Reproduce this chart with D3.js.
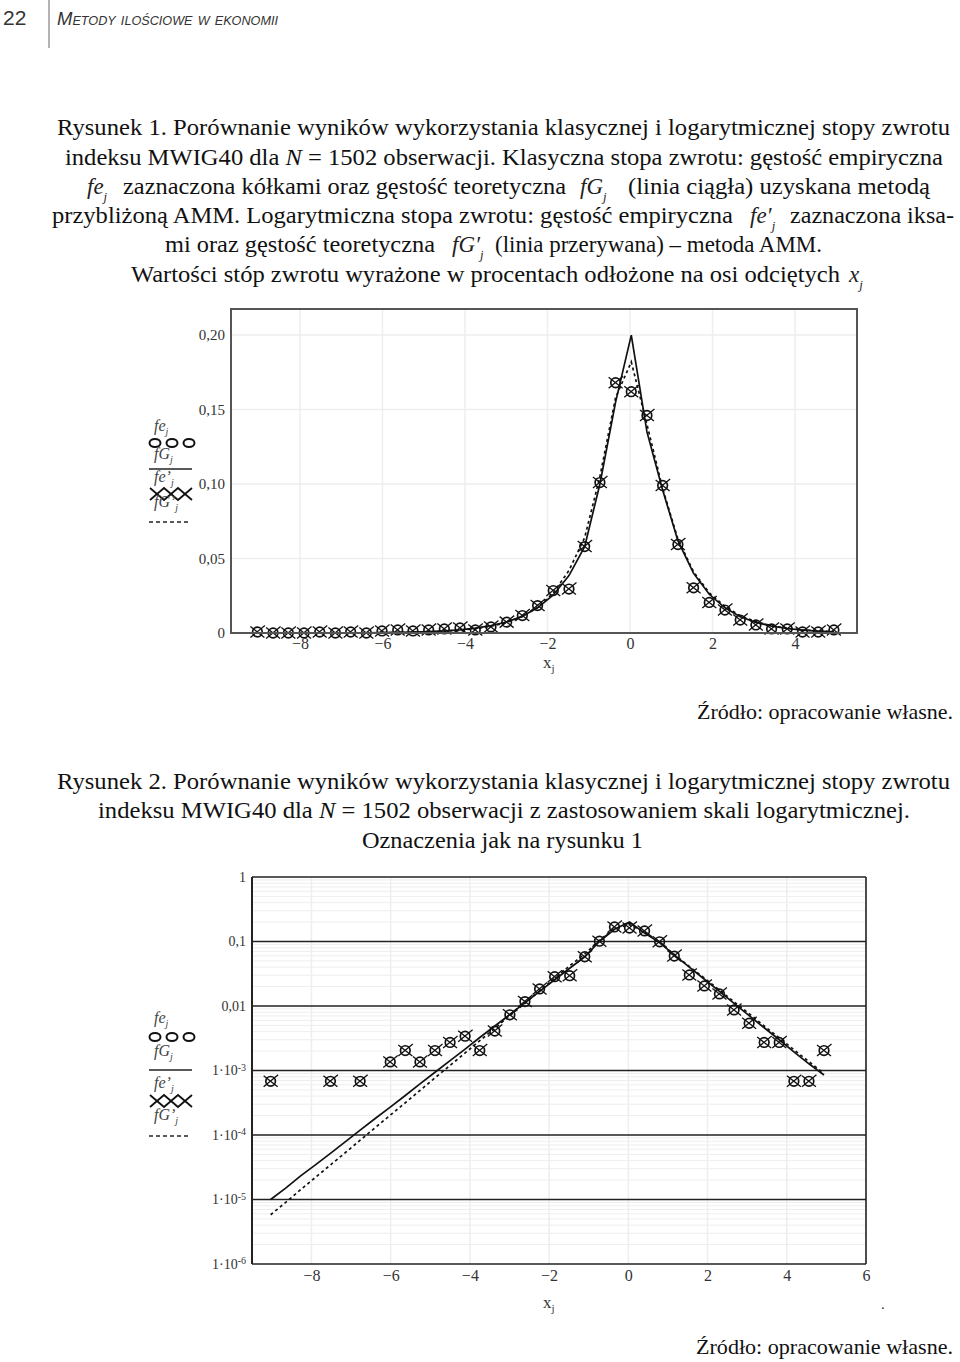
<!DOCTYPE html>
<html lang="pl">
<head>
<meta charset="UTF-8">
<title>Rysunek 1 i 2 - MWIG40</title>
<script src="https://d3js.org/d3.v7.min.js"></script>
<style>
  body { margin: 0; background: #fff; }
</style>
</head>
<body>
<script>
// bin centres x_j (returns in %)
const xj = [-9.03, -8.65, -8.28, -7.90, -7.52, -7.14, -6.77, -6.39, -6.01, -5.63, -5.26, -4.88, -4.50, -4.12, -3.75, -3.37, -2.99, -2.61, -2.24, -1.86, -1.48, -1.10, -0.73, -0.35, 0.03, 0.41, 0.79, 1.16, 1.54, 1.92, 2.30, 2.67, 3.05, 3.43, 3.81, 4.18, 4.56, 4.94];
// empirical density (circles fe_j and crosses fe'_j lie on top of each other)
const fe = [0.00068, 0, 0, 0, 0.00068, 0, 0.00068, 0, 0.00136, 0.00204, 0.00136, 0.00204, 0.00272, 0.0034, 0.00204, 0.00408, 0.0073, 0.0117, 0.0184, 0.0285, 0.0295, 0.058, 0.101, 0.168, 0.162, 0.146, 0.099, 0.0594, 0.0303, 0.0205, 0.0154, 0.0087, 0.0054, 0.00272, 0.00272, 0.00068, 0.00068, 0.00204];
// theoretical density fG_j (solid)
const fG = [1.0e-5, 1.5e-5, 2.3e-5, 3.45e-5, 5.2e-5, 7.9e-5, 1.19e-4, 1.8e-4, 2.7e-4, 4.1e-4, 6.2e-4, 9.4e-4, 1.42e-3, 2.15e-3, 3.25e-3, 4.9e-3, 7.4e-3, 0.0112, 0.0169, 0.0255, 0.0385, 0.058, 0.100, 0.155, 0.200, 0.135, 0.096, 0.062, 0.040, 0.026, 0.0169, 0.011, 0.0071, 0.0046, 0.003, 0.00195, 0.00127, 0.00085];
// theoretical density fG'_j (dashed, log returns)
const fGp = [5.8e-6, 9.0e-6, 1.41e-5, 2.2e-5, 3.43e-5, 5.35e-5, 8.3e-5, 1.3e-4, 2.03e-4, 3.16e-4, 4.9e-4, 7.7e-4, 1.2e-3, 1.87e-3, 2.9e-3, 4.5e-3, 7.1e-3, 0.011, 0.0172, 0.0268, 0.042, 0.064, 0.105, 0.158, 0.182, 0.140, 0.097, 0.063, 0.041, 0.027, 0.0177, 0.0116, 0.0076, 0.0049, 0.0032, 0.0021, 0.00137, 0.0009];

// ticks
const xTicks1 = [-8, -6, -4, -2, 0, 2, 4];
const yTicks1 = [0, 0.05, 0.10, 0.15, 0.20];
const yLabels1 = ['0', '0,05', '0,10', '0,15', '0,20'];
const xTicks2 = [-8, -6, -4, -2, 0, 2, 4, 6];
const yTicks2 = [1, 0.1, 0.01, 1e-3, 1e-4, 1e-5, 1e-6];
const yLabels2 = ['1', '0,1', '0,01', '1\u00b710', '1\u00b710', '1\u00b710', '1\u00b710'];
const yExp2 = ['', '', '', '-3', '-4', '-5', '-6'];

const serif = '"Liberation Serif", "Times New Roman", serif';
const sans = '"Liberation Sans", Arial, sans-serif';

const svg = d3.select('body').append('svg')
  .attr('width', 960).attr('height', 1362)
  .style('font-family', serif);

// ---- page header
svg.append('text').attr('x', 3).attr('y', 25)
  .style('font-family', sans).style('font-size', '21px').style('fill', '#333')
  .text('22');
svg.append('line').attr('x1', 49).attr('x2', 49).attr('y1', 0).attr('y2', 48)
  .attr('stroke', '#666').attr('stroke-width', 1);
svg.append('text').attr('x', 57).attr('y', 25)
  .style('font-family', sans).style('font-size', '19px').style('font-style', 'italic')
  .style('font-variant', 'small-caps').style('fill', '#333')
  .attr('textLength', 221).attr('lengthAdjust', 'spacingAndGlyphs')
  .text('Metody ilościowe w ekonomii');

// ---- caption helpers
function seg(x, y, w, str, size) {
  const t = svg.append('text').attr('x', x).attr('y', y)
    .style('font-size', (size || 23) + 'px').style('fill', '#111');
  if (w) t.attr('textLength', w).attr('lengthAdjust', 'spacingAndGlyphs');
  if (str != null) t.text(str);
  return t;
}
function math(x, y, base, sub, size) {
  const s = size || 23;
  const t = svg.append('text').attr('x', x).attr('y', y)
    .style('font-size', s + 'px').style('font-style', 'italic').style('fill', '#222');
  t.append('tspan').text(base);
  t.append('tspan').attr('dy', s * 0.3).style('font-size', (s * 0.55) + 'px').text(sub);
  return t;
}

// caption 1
seg(57, 135, 893, 'Rysunek 1. Porównanie wyników wykorzystania klasycznej i logarytmicznej stopy zwrotu');
const c12 = seg(65, 165, 878);
c12.append('tspan').text('indeksu MWIG40 dla ');
c12.append('tspan').style('font-style', 'italic').text('N');
c12.append('tspan').text(' = 1502 obserwacji. Klasyczna stopa zwrotu: gęstość empiryczna');
math(87, 194, 'fe', 'j');
seg(123, 194, 443, 'zaznaczona kółkami oraz gęstość teoretyczna');
math(580, 194, 'fG', 'j');
seg(628, 194, 302, '(linia ciągła) uzyskana metodą');
seg(52, 223, 681, 'przybliżoną AMM. Logarytmiczna stopa zwrotu: gęstość empiryczna');
math(750, 223, 'fe\u2032', 'j');
seg(790, 223, 164, 'zaznaczona iksa-');
seg(165, 252, 270, 'mi oraz gęstość teoretyczna');
math(452, 252, 'fG\u2032', 'j');
seg(495, 252, 327, '(linia przerywana) \u2013 metoda AMM.');
seg(131, 282, 709, 'Wartości stóp zwrotu wyrażone w procentach odłożone na osi odciętych');
math(849, 282, 'x', 'j');

// ---- markers, legend
function markers(g, pts, x, y) {
  const m = g.selectAll('g.mk').data(pts).enter().append('g')
    .attr('class', 'mk')
    .attr('transform', d => `translate(${x(d[0])},${y(d[1])})`);
  m.append('circle').attr('r', 4.8).attr('fill', 'none').attr('stroke', '#111').attr('stroke-width', 1.7);
  m.append('path').attr('d', 'M-7,-5.5L7,5.5M-7,5.5L7.5,-6.5')
    .attr('fill', 'none').attr('stroke', '#111').attr('stroke-width', 1.3);
}

function legend(ys) {
  const g = svg.append('g');
  const lab = (y, base, prime) => {
    const t = g.append('text').attr('x', 154).attr('y', y)
      .style('font-size', '16px').style('font-style', 'italic').style('fill', '#444');
    t.append('tspan').text(base + (prime ? '\u2019' : ''));
    t.append('tspan').attr('dy', 4).style('font-size', '10px').text('j');
  };
  lab(ys[0], 'fe', false);
  [155, 172, 189].forEach(cx => g.append('ellipse').attr('cx', cx).attr('cy', ys[1])
    .attr('rx', 5.5).attr('ry', 4).attr('fill', 'none').attr('stroke', '#111').attr('stroke-width', 2));
  lab(ys[2], 'fG', false);
  g.append('line').attr('x1', 149).attr('x2', 192).attr('y1', ys[3]).attr('y2', ys[3])
    .attr('stroke', '#222').attr('stroke-width', 1.6);
  lab(ys[4], 'fe', true);
  const yx = ys[5];
  g.append('polyline').attr('points', `150,${yx - 6} 164,${yx + 6} 178,${yx - 6} 192,${yx + 6}`)
    .attr('fill', 'none').attr('stroke', '#111').attr('stroke-width', 1.8);
  g.append('polyline').attr('points', `150,${yx + 6} 164,${yx - 6} 178,${yx + 6} 192,${yx - 6}`)
    .attr('fill', 'none').attr('stroke', '#111').attr('stroke-width', 1.8);
  lab(ys[6], 'fG', true);
  g.append('line').attr('x1', 149).attr('x2', 188).attr('y1', ys[7]).attr('y2', ys[7])
    .attr('stroke', '#222').attr('stroke-width', 1.5).attr('stroke-dasharray', '4,3');
}

function styleAxisText(g, size) {
  g.attr('font-family', null).attr('font-size', null);
  g.selectAll('text').style('font-family', serif).style('font-size', size + 'px').style('fill', '#333');
}

const pts = xj.map((x, i) => [x, fe[i]]);
const solid = xj.map((x, i) => [x, fG[i]]);
const dashed = xj.map((x, i) => [x, fGp[i]]);

// ---- chart 1 (linear)
const x1 = d3.scaleLinear().domain([-9.67, 5.5]).range([231, 857]);
const y1 = d3.scaleLinear().domain([0, 0.2175]).range([633, 309]);
const ch1 = svg.append('g');

ch1.selectAll('line.gx').data(xTicks1).enter().append('line')
  .attr('x1', d => x1(d)).attr('x2', d => x1(d)).attr('y1', 309).attr('y2', 633)
  .attr('stroke', '#eeeeee').attr('stroke-width', 1.5);
ch1.selectAll('line.gy').data(yTicks1.slice(1)).enter().append('line')
  .attr('x1', 231).attr('x2', 857).attr('y1', d => y1(d)).attr('y2', d => y1(d))
  .attr('stroke', '#eeeeee').attr('stroke-width', 1.5);

const line1 = d3.line().x(d => x1(d[0])).y(d => y1(d[1]));
ch1.append('path').datum(solid).attr('d', line1)
  .attr('fill', 'none').attr('stroke', '#111').attr('stroke-width', 1.7);
ch1.append('path').datum(dashed).attr('d', line1)
  .attr('fill', 'none').attr('stroke', '#111').attr('stroke-width', 1.7).attr('stroke-dasharray', '3,3');
markers(ch1, pts, x1, y1);

ch1.append('rect').attr('x', 231).attr('y', 309).attr('width', 626).attr('height', 324)
  .attr('fill', 'none').attr('stroke', '#555').attr('stroke-width', 2);

ch1.append('g').attr('transform', 'translate(231,0)')
  .call(d3.axisLeft(y1).tickValues(yTicks1).tickFormat((d, i) => yLabels1[i]).tickSize(0).tickPadding(6))
  .call(g => g.select('.domain').remove())
  .call(g => styleAxisText(g, 15));
ch1.append('g').attr('transform', 'translate(0,633)')
  .call(d3.axisBottom(x1).tickValues(xTicks1).tickFormat(d => d < 0 ? '\u2212' + Math.abs(d) : d).tickSize(0).tickPadding(5))
  .call(g => g.select('.domain').remove())
  .call(g => styleAxisText(g, 16));

const xl1 = ch1.append('text').attr('x', 543).attr('y', 668).style('font-size', '17px').style('fill', '#333');
xl1.append('tspan').text('x');
xl1.append('tspan').attr('dy', 4).style('font-size', '11px').text('j');

legend([431, 443, 459, 469, 482, 494, 507, 522]);

seg(697, 719, 256, 'Źródło: opracowanie własne.', 22);

// caption 2
seg(57, 789, 893, 'Rysunek 2. Porównanie wyników wykorzystania klasycznej i logarytmicznej stopy zwrotu');
const c22 = seg(98, 818, 812);
c22.append('tspan').text('indeksu MWIG40 dla ');
c22.append('tspan').style('font-style', 'italic').text('N');
c22.append('tspan').text(' = 1502 obserwacji z zastosowaniem skali logarytmicznej.');
seg(362, 848, 281, 'Oznaczenia jak na rysunku 1');

// ---- chart 2 (log)
const x2 = d3.scaleLinear().domain([-9.5, 6]).range([252, 866]);
const y2 = d3.scaleLog().domain([1e-6, 1]).range([1264, 877]);
const ch2 = svg.append('g');

const minor = [];
yTicks2.slice(1).forEach(d => { for (let m = 2; m <= 9; m++) minor.push(d * m); });
ch2.selectAll('line.mn').data(minor).enter().append('line')
  .attr('x1', 252).attr('x2', 866).attr('y1', d => y2(d)).attr('y2', d => y2(d))
  .attr('stroke', '#eeeeee').attr('stroke-width', 1);
ch2.selectAll('line.gx').data(xTicks2).enter().append('line')
  .attr('x1', d => x2(d)).attr('x2', d => x2(d)).attr('y1', 877).attr('y2', 1264)
  .attr('stroke', '#eeeeee').attr('stroke-width', 1.5);
ch2.selectAll('line.mj').data(yTicks2).enter().append('line')
  .attr('x1', 252).attr('x2', 866).attr('y1', d => y2(d)).attr('y2', d => y2(d))
  .attr('stroke', '#222').attr('stroke-width', 1.6);
ch2.append('line').attr('x1', 252).attr('x2', 252).attr('y1', 877).attr('y2', 1264)
  .attr('stroke', '#222').attr('stroke-width', 2);
ch2.append('line').attr('x1', 866).attr('x2', 866).attr('y1', 877).attr('y2', 1264)
  .attr('stroke', '#222').attr('stroke-width', 1.6);

const line2 = d3.line().x(d => x2(d[0])).y(d => y2(d[1]));
ch2.append('path').datum(solid).attr('d', line2)
  .attr('fill', 'none').attr('stroke', '#111').attr('stroke-width', 1.7);
ch2.append('path').datum(dashed).attr('d', line2)
  .attr('fill', 'none').attr('stroke', '#111').attr('stroke-width', 1.7).attr('stroke-dasharray', '3,3');
markers(ch2, pts.filter(d => d[1] > 0), x2, y2);

ch2.append('g').attr('transform', 'translate(252,0)')
  .call(d3.axisLeft(y2).tickValues(yTicks2).tickFormat(() => '').tickSize(0).tickPadding(6))
  .call(g => g.select('.domain').remove())
  .call(g => styleAxisText(g, 14))
  .call(g => g.selectAll('.tick text').each(function (d, i) {
    const t = d3.select(this);
    t.append('tspan').text(yLabels2[i]);
    if (yExp2[i]) t.append('tspan').attr('dy', '-0.45em').style('font-size', '10px').text(yExp2[i]);
  }));
ch2.append('g').attr('transform', 'translate(0,1264)')
  .call(d3.axisBottom(x2).tickValues(xTicks2).tickFormat(d => d < 0 ? '\u2212' + Math.abs(d) : d).tickSize(0).tickPadding(6))
  .call(g => g.select('.domain').remove())
  .call(g => styleAxisText(g, 16));

const xl2 = ch2.append('text').attr('x', 543).attr('y', 1308).style('font-size', '17px').style('fill', '#333');
xl2.append('tspan').text('x');
xl2.append('tspan').attr('dy', 4).style('font-size', '11px').text('j');
ch2.append('text').attr('x', 881).attr('y', 1309).style('font-size', '15px').style('fill', '#333').text('.');

legend([1023, 1037, 1056, 1070, 1088, 1101, 1120, 1136]);

seg(696, 1354, 257, 'Źródło: opracowanie własne.', 22);
</script>
</body>
</html>
